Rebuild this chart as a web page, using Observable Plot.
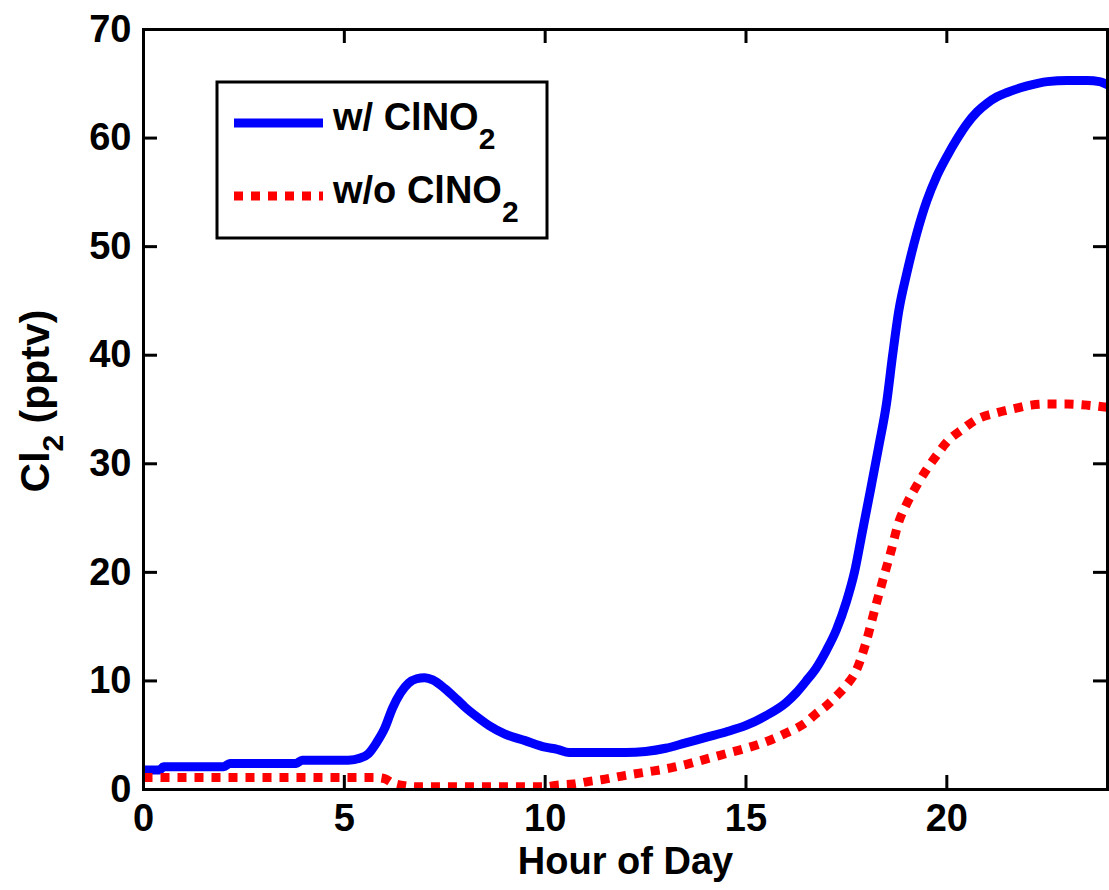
<!DOCTYPE html>
<html>
<head>
<meta charset="utf-8">
<script src="https://cdn.jsdelivr.net/npm/d3@7"></script>
<script src="https://cdn.jsdelivr.net/npm/@observablehq/plot@0.6"></script>
<style>
  html, body { margin: 0; padding: 0; background: #fff; }
</style>
</head>
<body>
<div id="chart"></div>
<script>
// Hour of day and Cl2 (pptv), with ClNO2
const hoursWith = [0, 0.4, 0.5, 2.0, 2.15, 3.8, 3.95, 5.1, 5.4, 5.6, 5.8, 6.0, 6.2, 6.4, 6.6, 6.8, 7.0, 7.2, 7.5, 7.8, 8.0, 8.3, 8.6, 9.0, 9.5, 10.0, 10.3, 10.6, 11.0, 12.0, 12.5, 13.0, 13.5, 14.0, 14.5, 15.0, 15.5, 16.0, 16.25, 16.5, 16.75, 17.0, 17.25, 17.5, 17.7, 17.9, 18.1, 18.3, 18.5, 18.65, 18.8, 19.0, 19.25, 19.5, 19.75, 20.0, 20.25, 20.5, 20.75, 21.0, 21.25, 21.5, 22.0, 22.5, 23.0, 23.5, 23.8, 24.0];
const cl2With = [1.8, 1.8, 2.1, 2.1, 2.4, 2.4, 2.7, 2.7, 2.9, 3.3, 4.3, 5.6, 7.5, 8.9, 9.8, 10.2, 10.3, 10.1, 9.3, 8.3, 7.6, 6.7, 5.9, 5.1, 4.5, 3.9, 3.7, 3.4, 3.4, 3.4, 3.5, 3.8, 4.3, 4.8, 5.3, 5.9, 6.8, 8.0, 8.9, 10.0, 11.2, 12.8, 14.7, 17.3, 20.0, 23.8, 27.6, 31.5, 35.6, 40.0, 44.0, 47.5, 51.2, 54.2, 56.5, 58.3, 59.9, 61.3, 62.4, 63.2, 63.8, 64.2, 64.8, 65.2, 65.3, 65.3, 65.2, 64.9];

// Hour of day and Cl2 (pptv), without ClNO2
const hoursWithout = [0, 5.8, 6.0, 6.2, 6.5, 6.8, 10.0, 10.3, 10.7, 11.1, 11.4, 12.0, 12.5, 13.0, 13.5, 14.0, 14.5, 15.0, 15.5, 16.0, 16.5, 16.75, 17.0, 17.25, 17.5, 17.75, 18.0, 18.2, 18.4, 18.6, 18.8, 19.0, 19.25, 19.5, 19.75, 20.0, 20.4, 20.75, 21.25, 21.7, 22.1, 22.5, 23.0, 23.5, 24.0];
const cl2Without = [1.1, 1.1, 1.0, 0.6, 0.35, 0.25, 0.25, 0.4, 0.5, 0.75, 0.9, 1.3, 1.6, 1.9, 2.3, 2.8, 3.3, 3.8, 4.4, 5.2, 6.2, 7.0, 7.7, 8.6, 9.6, 11.0, 13.7, 16.5, 19.2, 21.8, 24.6, 26.3, 28.0, 29.5, 30.8, 32.0, 33.2, 34.1, 34.7, 35.1, 35.4, 35.5, 35.5, 35.4, 35.2];

const xTicks = [0, 5, 10, 15, 20];
const yTicks = [0, 10, 20, 30, 40, 50, 60, 70];
const seriesNames = ["w/ ClNO", "w/o ClNO"];

const withData = hoursWith.map((h, i) => ({hour: h, cl2: cl2With[i]}));
const withoutData = hoursWithout.map((h, i) => ({hour: h, cl2: cl2Without[i]}));

const W = 1109, H = 890;
const mL = 143, mR = 2, mT = 29, mB = 101;
const plotW = W - mL - mR, plotH = H - mT - mB;
const tickLen = 14;
const FONT = "'Liberation Sans', Arial, Helvetica, sans-serif";

const chart = Plot.plot({
  width: W,
  height: H,
  marginLeft: mL,
  marginRight: mR,
  marginTop: mT,
  marginBottom: mB,
  style: {fontFamily: FONT, fontWeight: "bold", fontSize: "38px", color: "black", background: "white", overflow: "visible"},
  x: {domain: [0, 24], ticks: xTicks, tickSize: 0, tickPadding: 15, label: null},
  y: {domain: [0, 70], ticks: yTicks, tickSize: 0, tickPadding: 12, label: null},
  marks: [
    Plot.line(withData, {x: "hour", y: "cl2", stroke: "#0000ff", strokeWidth: 9, curve: "monotone-x", clip: true}),
    Plot.line(withoutData, {x: "hour", y: "cl2", stroke: "#ff0000", strokeWidth: 9, strokeDasharray: "9,8", strokeLinecap: "butt", curve: "monotone-x", clip: true}),
    Plot.ruleX(xTicks, {x: d => d, insetTop: plotH - tickLen, stroke: "black", strokeWidth: 3}),
    Plot.ruleX(xTicks, {x: d => d, insetBottom: plotH - tickLen, stroke: "black", strokeWidth: 3}),
    Plot.ruleY(yTicks, {y: d => d, insetRight: plotW - tickLen, stroke: "black", strokeWidth: 3}),
    Plot.ruleY(yTicks, {y: d => d, insetLeft: plotW - tickLen, stroke: "black", strokeWidth: 3}),
    Plot.frame({stroke: "black", strokeWidth: 3}),
    Plot.text(["Hour of Day"], {frameAnchor: "bottom", lineAnchor: "middle", dy: 72, fontSize: 38, fontWeight: "bold", fill: "black"})
  ]
});

document.getElementById("chart").appendChild(chart);

const svg = d3.select(chart);

// Y-axis label with subscript
const yl = svg.append("text")
  .attr("transform", `translate(49, ${mT + plotH / 2 - 8}) rotate(-90)`)
  .attr("text-anchor", "middle")
  .attr("font-family", FONT)
  .attr("font-weight", "bold")
  .attr("font-size", 41)
  .attr("fill", "black");
yl.append("tspan").text("Cl");
yl.append("tspan").attr("font-size", 30).attr("dy", 14).text("2");
yl.append("tspan").attr("dy", -14).text(" (pptv)");

// Legend
const lg = svg.append("g");
lg.append("rect")
  .attr("x", 217).attr("y", 82).attr("width", 330).attr("height", 156)
  .attr("fill", "white").attr("stroke", "black").attr("stroke-width", 3);
lg.append("line")
  .attr("x1", 234).attr("x2", 323).attr("y1", 123).attr("y2", 123)
  .attr("stroke", "#0000ff").attr("stroke-width", 9);
lg.append("line")
  .attr("x1", 234).attr("x2", 323).attr("y1", 196).attr("y2", 196)
  .attr("stroke", "#ff0000").attr("stroke-width", 9).attr("stroke-dasharray", "9,8");
[[130, seriesNames[0]], [203, seriesNames[1]]].forEach(([by, name]) => {
  const t = lg.append("text")
    .attr("x", 333).attr("y", by)
    .attr("text-anchor", "start")
    .attr("font-family", FONT).attr("font-weight", "bold").attr("font-size", 38).attr("fill", "black");
  t.append("tspan").text(name);
  t.append("tspan").attr("font-size", 30).attr("dy", 19).text("2");
});
</script>
</body>
</html>
